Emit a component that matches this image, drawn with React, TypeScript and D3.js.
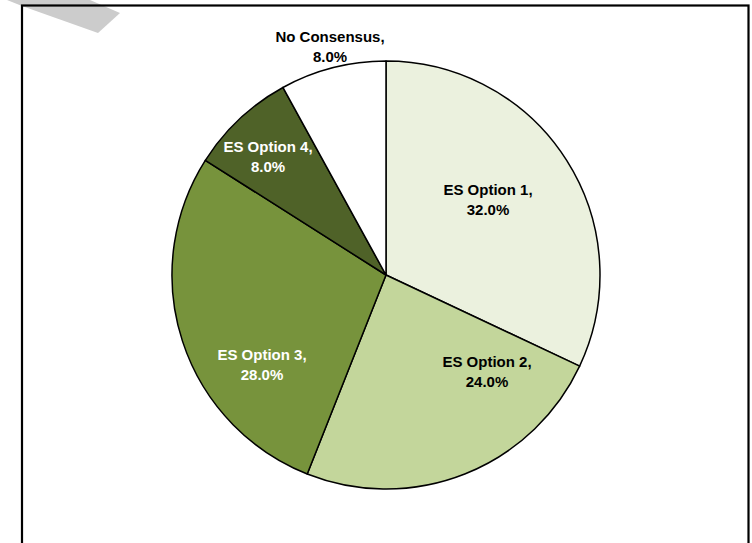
import React from "react";
import * as d3 from "d3";

const categories = ["ES Option 1", "ES Option 2", "ES Option 3", "ES Option 4", "No Consensus"];
const values = [32.0, 24.0, 28.0, 8.0, 8.0];
const colors = ["#EBF1DE", "#C3D69B", "#77933C", "#4F6228", "#FFFFFF"];
const labelColors = ["#000000", "#000000", "#FFFFFF", "#FFFFFF", "#000000"];
// label anchor offsets relative to pie centre (first baseline), in px
const labelOffsets: [number, number][] = [
  [102, -80],
  [101, 92],
  [-124, 85],
  [-118, -123],
  [-56, -233],
];

export default function App() {
  const W = 752, H = 543;
  const cx = 386, cy = 275, r = 214;
  const pie = d3.pie<number>().sort(null).value((d) => d)(values);
  const arc = d3.arc<d3.PieArcDatum<number>>().innerRadius(0).outerRadius(r);
  const font = "'Liberation Sans', Arial, sans-serif";
  return (
    <svg width={W} height={H} style={{ position: "absolute", left: 0, top: 0, background: "#fff" }}>
      <polygon points="7,0 90,0 120,13 98,33 22,6" fill="#cccccc" />
      <rect x={22} y={5.5} width={726.5} height={560} fill="none" stroke="#000" strokeWidth={2.2} />
      <g transform={`translate(${cx},${cy})`}>
        {pie.map((p, i) => (
          <path key={i} d={arc(p) || ""} fill={colors[i]} stroke="#000" strokeWidth={1.5} strokeLinejoin="round" />
        ))}
        {pie.map((p, i) => {
          const [dx, dy] = labelOffsets[i];
          return (
            <text key={"t" + i} x={dx} y={dy} textAnchor="middle" fontFamily={font} fontWeight="bold" fontSize={15} fill={labelColors[i]}>
              <tspan x={dx} dy={0}>{categories[i] + ","}</tspan>
              <tspan x={dx} dy={20}>{values[i].toFixed(1) + "%"}</tspan>
            </text>
          );
        })}
      </g>
    </svg>
  );
}
